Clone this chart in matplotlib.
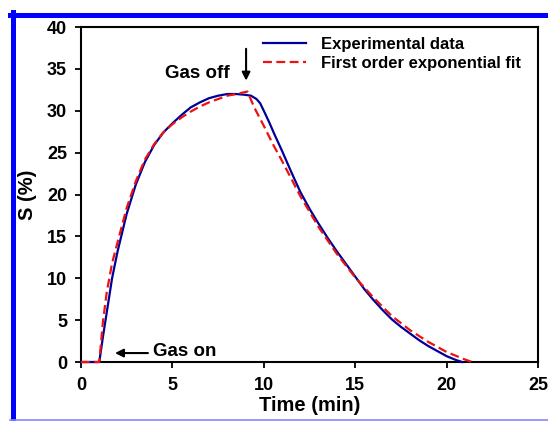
import matplotlib.pyplot as plt
from matplotlib.lines import Line2D

# sensor response to gas pulse
t_exp = [0, 0.5, 1.0, 1.2, 1.4, 1.7, 2.0, 2.5, 3.0, 3.5, 4.0, 4.5, 5.0, 5.5,
         6.0, 6.5, 7.0, 7.5, 8.0, 8.5, 9.0, 9.3, 9.6, 9.8, 10.0, 10.3, 10.6,
         11.0, 11.5, 12.0, 12.5, 13.0, 13.5, 14.0, 14.5, 15.0, 15.5, 16.0,
         16.5, 17.0, 17.5, 18.0, 18.5, 19.0, 19.5, 20.0, 20.5, 20.85]
s_exp = [0, 0, 0, 3.0, 5.8, 10.0, 13.2, 17.7, 21.2, 23.9, 25.9, 27.4, 28.5,
         29.5, 30.4, 31.0, 31.5, 31.8, 32.0, 32.0, 31.9, 31.8, 31.4, 30.9,
         30.0, 28.6, 27.1, 25.2, 22.7, 20.3, 18.3, 16.5, 14.8, 13.2, 11.7,
         10.2, 8.7, 7.4, 6.2, 5.1, 4.2, 3.4, 2.6, 1.9, 1.3, 0.7, 0.25, 0.0]

t_fit = [0, 0.5, 1.0, 1.2, 1.4, 1.7, 2.0, 2.5, 3.0, 3.5, 4.0, 4.5, 5.0, 5.5,
         6.0, 6.5, 7.0, 7.5, 8.0, 8.5, 9.1, 9.5, 10.0, 10.5, 11.0, 11.5, 12.0,
         13.0, 14.0, 15.0, 16.0, 17.0, 18.0, 19.0, 20.0, 21.0, 21.4]
s_fit = [0, 0, 0, 4.8, 8.2, 11.8, 14.3, 18.4, 21.6, 24.2, 26.0, 27.4, 28.4,
         29.2, 29.9, 30.5, 31.0, 31.4, 31.8, 32.0, 32.3, 30.3, 28.2, 26.0,
         24.0, 21.9, 19.8, 16.1, 12.9, 10.1, 7.7, 5.5, 3.8, 2.4, 1.2, 0.3, 0.0]

plt.rcParams['font.family'] = ['Liberation Sans', 'DejaVu Sans']
plt.rcParams['font.weight'] = 'bold'

fig = plt.figure(figsize=(5.48, 4.21), dpi=100)
ax = fig.add_axes([0.1478, 0.1401, 0.834, 0.7957])

ax.plot(t_exp, s_exp, color='#000099', lw=1.6, label='Experimental data',
        clip_on=False, zorder=3)
ax.plot(t_fit, s_fit, color='#ee1111', lw=1.6, ls=(0, (4, 2)),
        label='First order exponential fit', clip_on=False, zorder=4)

ax.set_xlim(0, 25)
ax.set_ylim(0, 40)
ax.set_xticks(range(0, 26, 5))
ax.set_yticks(range(0, 41, 5))
ax.tick_params(direction='out', length=4, width=1.3, labelsize=13)
ax.tick_params(axis='y', pad=6)
ax.tick_params(axis='x', pad=7)
for sp in ax.spines.values():
    sp.set_linewidth(1.5)

ax.set_xlabel('Time (min)', fontsize=14.5, fontweight='bold', labelpad=1)
ax.set_ylabel('S (%)', fontsize=14.5, fontweight='bold', labelpad=7)

fig.legend(loc='upper left', bbox_to_anchor=(263 / 548, 1 - 37 / 421),
           frameon=False, borderpad=0, borderaxespad=0, handlelength=2.6,
           handletextpad=0.9, labelspacing=0.25,
           prop={'size': 12, 'weight': 'bold'})

# gas on / off markers
ax.annotate('', xy=(9.03, 33.6), xytext=(9.03, 37.4),
            arrowprops=dict(arrowstyle='-|>', color='black', lw=1.5,
                            mutation_scale=12, shrinkA=0, shrinkB=0))
ax.text(6.37, 34.4, 'Gas off', ha='center', va='center', fontsize=13.5,
        fontweight='bold')
ax.annotate('', xy=(1.86, 1.07), xytext=(3.66, 1.07),
            arrowprops=dict(arrowstyle='-|>', color='black', lw=1.5,
                            mutation_scale=12, shrinkA=0, shrinkB=0))
ax.text(3.94, 1.2, 'Gas on', ha='left', va='center', fontsize=13.5,
        fontweight='bold')

# blue page frame
fig.add_artist(Line2D([10 / 548, 1], [1 - 14.5 / 421] * 2,
                      transform=fig.transFigure, color='#0000ff', lw=3.6))
fig.add_artist(Line2D([12.5 / 548] * 2, [1 - 12 / 421, 0],
                      transform=fig.transFigure, color='#0000ff', lw=3.6))
fig.add_artist(Line2D([10 / 548, 1], [1 / 421] * 2,
                      transform=fig.transFigure, color='#8888ff', lw=1.2))

fig.savefig('out.png', dpi=100)
